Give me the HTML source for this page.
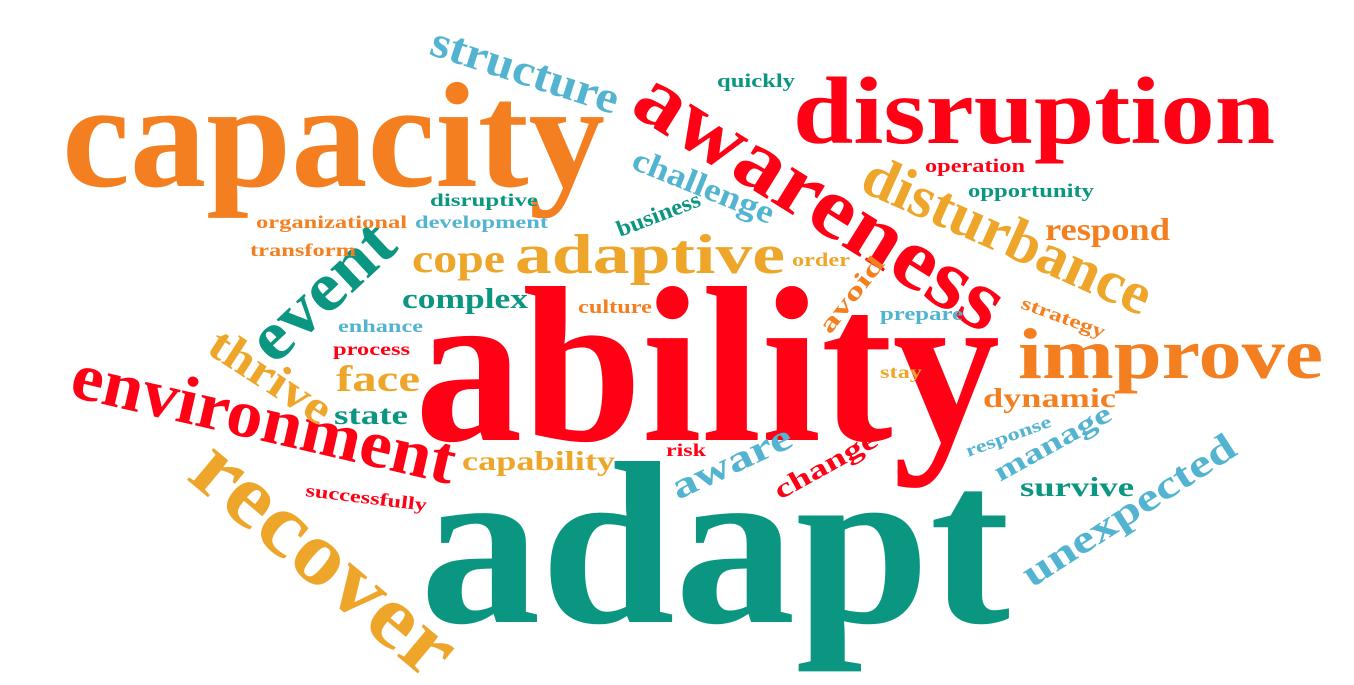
<!DOCTYPE html>
<html><head><meta charset="utf-8"><style>
html,body{margin:0;padding:0;background:#fff;width:1354px;height:685px;overflow:hidden}
svg text{font-family:"Liberation Serif",serif;font-weight:bold}
</style></head><body>
<svg id="cloud" width="1354" height="685" viewBox="0 0 1354 685" xmlns="http://www.w3.org/2000/svg"></svg>
<script>
const words = ["capacity","disruption","awareness","ability","adapt","improve","environment","recover","event","thrive","structure","challenge","business","quickly","disturbance","operation","opportunity","respond","strategy","order","avoid","prepare","adaptive","cope","organizational","development","disruptive","transform","complex","culture","enhance","process","face","state","capability","successfully","risk","aware","change","stay","dynamic","response","manage","survive","unexpected"];
const colors = ["o","r","r","r","t","o","r","g","t","g","b","b","t","t","g","r","t","o","o","g","o","b","g","g","o","b","t","o","t","o","b","r","g","t","g","r","r","b","r","g","o","b","b","t","b"];
const sizes = [150,95,88,222,232,72,68,90,70,47,45,33,23,19,60,19,19,32,19,19,25,19,56,40,18,18,18,18,28,19,18,18,37,27,27,18,18,37,27,18,27,18,28,27,39];
const xs = [62,793,628,415,420,1018,68,185,274,205,428,630,620,717,858,925,968,1045,1020,792,830,880,515,412,256,415,430,250,402,578,338,333,336,334,462,305,666,678,780,880,983,968,1000,1020,1032];
const ys = [186,143,112,440,622,378,396,478,366,352,54,168,237,87,190,172,197,240,308,266,335,320,273,272,228,228,206,256,308,313,332,355,391,424,470,496,456,500,500,378,407,457,482,496,588];
const angles = [0,0,32,0,0,0,13,40,-43,33,18,22,-21,0,24,0,0,0,20,0,-52,0,0,0,0,0,0,0,0,0,0,0,0,0,0,7,0,-25,-29,0,0,-20,-29,0,-33];
const lengths = [543,482,420,585,590,305,392,318,172,137,195,150,88,78,310,100,126,125,88,58,90,83,270,93,151,133,108,106,126,74,85,77,84,74,153,122,40,129,114,42,133,90,130,114,247];
const palette = {o:"#F47F20", r:"#FF0014", t:"#0A9681", g:"#EEA62A", b:"#52B4D0"};
const svg = document.getElementById('cloud');
const NS = "http://www.w3.org/2000/svg";
for (let i = 0; i < words.length; i++) {
  const t = document.createElementNS(NS, 'text');
  t.setAttribute('x', xs[i]);
  t.setAttribute('y', ys[i]);
  t.setAttribute('font-size', sizes[i]);
  t.setAttribute('fill', palette[colors[i]]);
  t.setAttribute('textLength', lengths[i]);
  t.setAttribute('lengthAdjust', 'spacingAndGlyphs');
  if (angles[i]) t.setAttribute('transform', 'rotate(' + angles[i] + ' ' + xs[i] + ' ' + ys[i] + ')');
  t.textContent = words[i];
  
  
  svg.appendChild(t);
}
</script>
</body></html>
